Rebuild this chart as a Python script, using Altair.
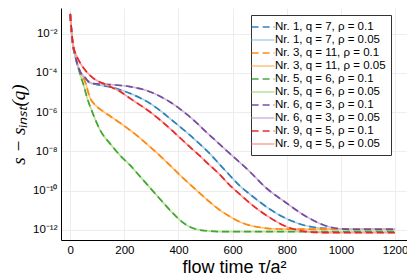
import altair as alt
import pandas as pd

# ---- data (x: flow time, v: log10 of s - s_inst) ----
nr1_x = [0, 6, 12, 18, 25, 37, 55, 74, 100, 147, 184, 220, 257, 294, 331, 367, 404, 441, 478, 514, 551, 588, 624, 661, 698, 735, 771, 803, 833, 864, 894, 943, 1000, 1200]
nr1_v = [-1.0, -2.08, -2.75, -3.1, -3.5, -3.95, -4.25, -4.5, -4.6, -4.72, -4.86, -5.04, -5.27, -5.55, -5.91, -6.31, -6.73, -7.16, -7.62, -8.09, -8.65, -9.2, -9.72, -10.15, -10.55, -10.92, -11.22, -11.45, -11.62, -11.76, -11.85, -11.92, -11.94, -11.94]

nr3_x = [0, 6, 12, 18, 25, 37, 55, 74, 90, 120, 147, 184, 220, 257, 294, 330, 367, 404, 441, 478, 515, 551, 588, 624, 660, 698, 735, 771, 900, 1200]
nr3_v = [-1.0, -2.08, -2.75, -3.1, -3.5, -3.95, -4.45, -5.3, -5.6, -5.95, -6.2, -6.55, -6.91, -7.31, -7.76, -8.2, -8.69, -9.19, -9.66, -10.12, -10.57, -10.97, -11.3, -11.57, -11.75, -11.86, -11.93, -11.95, -11.96, -11.96]

nr5_x = [0, 6, 12, 18, 25, 37, 49, 61, 86, 110, 150, 184, 220, 269, 330, 378, 404, 441, 470, 502, 550, 700, 900, 1200]
nr5_v = [-1.0, -2.08, -2.75, -3.1, -3.5, -4.1, -4.6, -5.2, -6.15, -6.9, -7.65, -8.2, -8.69, -9.45, -10.4, -11.13, -11.48, -11.84, -11.98, -12.04, -12.08, -12.08, -12.08, -12.08]

nr6_x = [0, 6, 12, 18, 25, 37, 55, 75, 147, 220, 294, 367, 441, 514, 588, 661, 723, 796, 870, 931, 992, 1050, 1200]
nr6_v = [-1.0, -2.08, -2.75, -3.1, -3.5, -3.95, -4.25, -4.53, -4.6, -4.7, -4.96, -5.47, -6.23, -7.16, -8.09, -9.0, -9.85, -10.6, -11.3, -11.72, -11.93, -11.97, -11.97]

nr9_x = [0, 6, 12, 18, 25, 37, 55, 86, 135, 184, 220, 257, 294, 331, 367, 404, 441, 478, 514, 551, 588, 624, 661, 698, 735, 771, 808, 840, 870, 930, 1000, 1200]
nr9_v = [-1.0, -2.0, -2.67, -2.95, -3.18, -3.5, -3.86, -4.28, -4.62, -4.95, -5.29, -5.63, -5.98, -6.39, -6.82, -7.29, -7.76, -8.22, -8.69, -9.16, -9.7, -10.15, -10.6, -11.0, -11.35, -11.65, -11.88, -12.0, -12.08, -12.13, -12.14, -12.14]

labels = [
    "Nr. 1, q = 7, ρ = 0.1", "Nr. 1, q = 7, ρ = 0.05",
    "Nr. 3, q = 11, ρ = 0.1", "Nr. 3, q = 11, ρ = 0.05",
    "Nr. 5, q = 6, ρ = 0.1", "Nr. 5, q = 6, ρ = 0.05",
    "Nr. 6, q = 3, ρ = 0.1", "Nr. 6, q = 3, ρ = 0.05",
    "Nr. 9, q = 5, ρ = 0.1", "Nr. 9, q = 5, ρ = 0.05",
]
colors = ["#1f78b4", "#a6cee3", "#ff7f00", "#fdbf6f", "#33a02c",
          "#b2df8a", "#6a3d9a", "#cab2d6", "#e31a1c", "#fb9a99"]
dashes = [[7, 4], [1, 0]] * 5
curves = [(nr1_x, nr1_v), (nr3_x, nr3_v), (nr5_x, nr5_v), (nr6_x, nr6_v), (nr9_x, nr9_v)]

y_ticks = [1e-12, 1e-10, 1e-8, 1e-6, 1e-4, 1e-2]
x_ticks = [0, 200, 400, 600, 800, 1000, 1200]

color_scale = alt.Scale(domain=labels, range=colors)
dash_scale = alt.Scale(domain=labels, range=dashes)
x_scale = alt.Scale(domain=[-34, 1244], nice=False, zero=False)
y_scale = alt.Scale(type="log", domain=[10 ** -12.51, 10 ** -0.70], nice=False)

ylab = ("datum.value < 5e-12 ? '10⁻¹²' : datum.value < 5e-10 ? '10⁻¹⁰' : "
        "datum.value < 5e-8 ? '10⁻⁸' : datum.value < 5e-6 ? '10⁻⁶' : "
        "datum.value < 5e-4 ? '10⁻⁴' : '10⁻²'")

# draw the solid (rho = 0.05) line under the dashed (rho = 0.1) line of each pair
order = []
for k in range(5):
    order += [2 * k + 1, 2 * k]

layers = []
for i in order:
    lab = labels[i]
    cx, cv = curves[i // 2]
    df = pd.DataFrame({"x": cx, "y": [10 ** v for v in cv], "label": lab})
    layers.append(
        alt.Chart(df).mark_line(strokeWidth=1.7, opacity=0.9, interpolate="monotone").encode(
            x=alt.X("x:Q", scale=x_scale,
                    axis=alt.Axis(values=x_ticks, title="flow time τ/a²", format="d")),
            y=alt.Y("y:Q", scale=y_scale,
                    axis=alt.Axis(values=y_ticks, labelExpr=ylab, title="s − sᵢₙₛₜ(q)")),
            color=alt.Color("label:N", scale=color_scale,
                            legend=alt.Legend(title=None, orient="none", legendX=190, legendY=7)),
            strokeDash=alt.StrokeDash("label:N", scale=dash_scale, legend=alt.Legend(title=None)),
        )
    )

chart = alt.layer(*layers).properties(
    width=346, height=232,
    autosize=alt.AutoSizeParams(type="none"),
    padding={"left": 53, "top": 0, "right": 0, "bottom": 37},
).configure_view(stroke=None).configure_axis(
    domainColor="#000", domainWidth=1, gridColor="#e8e8e8", gridWidth=0.8,
    ticks=False, labelFont="Liberation Sans", labelFontSize=11.5, labelColor="#000",
    labelPadding=4, titleFont="Liberation Sans", titleFontWeight="normal", titleColor="#000",
).configure_axisX(
    titleFontSize=18, titlePadding=3,
).configure_axisY(
    titleFont="Liberation Serif", titleFontStyle="italic", titleFontSize=19, titlePadding=4,
).configure_legend(
    strokeColor="#333", fillColor="#fff", padding=5, labelFont="Liberation Sans",
    labelFontSize=11.5, labelColor="#000", symbolType="M-2,0H2", symbolSize=130,
    symbolStrokeWidth=1.7, rowPadding=0, labelOffset=5, labelLimit=300,
)

chart.save("out.html", embed_options={"renderer": "svg", "actions": False})
